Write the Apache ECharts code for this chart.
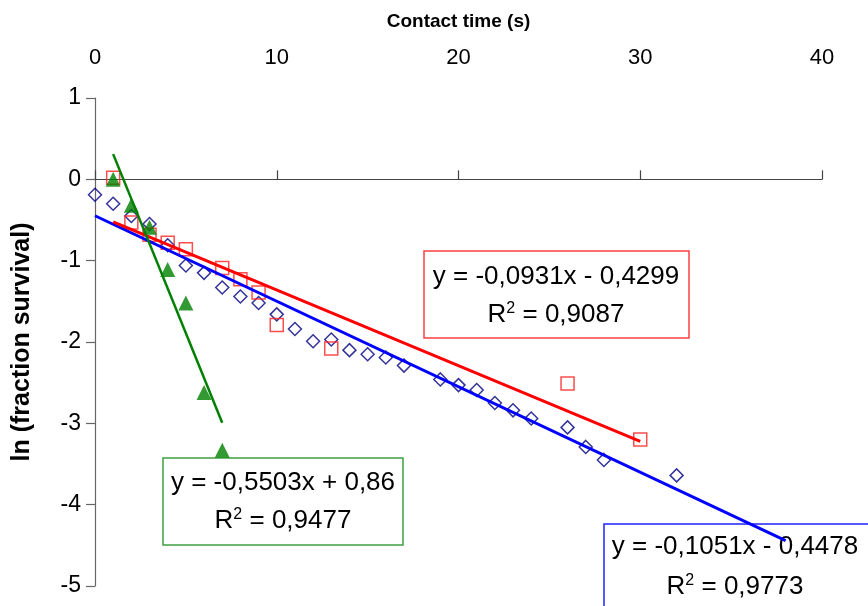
<!DOCTYPE html>
<html>
<head>
<meta charset="utf-8">
<script src="https://cdn.jsdelivr.net/npm/echarts@6/dist/echarts.min.js"></script>
<style>
    html, body { margin: 0; padding: 0; background: #fff; }
    #chart { width: 868px; height: 606px; }
</style>
</head>
<body>
<div id="chart"></div>
<script>
// series A (open diamonds)
var blueX = [0, 1, 2, 3, 4, 5, 6, 7, 8, 9, 10, 11, 12, 13, 14, 15, 16, 17, 19, 20, 21, 22, 23, 24, 26, 27, 28, 32];
var blueY = [-0.19, -0.30, -0.45, -0.55, -0.81, -1.06, -1.15, -1.33, -1.44, -1.52, -1.66, -1.84, -1.99, -1.97, -2.10, -2.15, -2.19, -2.29, -2.46, -2.53, -2.59, -2.75, -2.84, -2.94, -3.05, -3.29, -3.45, -3.64];
// series B (open squares)
var redX = [1, 2, 3, 4, 5, 7, 8, 9, 10, 13, 26, 30];
var redY = [0.02, -0.53, -0.68, -0.78, -0.86, -1.09, -1.23, -1.39, -1.79, -2.08, -2.51, -3.20];
// series C (filled triangles)
var greenX = [1, 2, 3, 4, 5, 6, 7];
var greenY = [0.0, -0.32, -0.59, -1.11, -1.52, -2.62, -3.33];

// trendlines: [slope, intercept], drawn over [from, to]
var blueFit = [-0.1051, -0.4478];
var redFit = [-0.0931, -0.4299];
var greenFit = [-0.5503, 0.86];
var blueSpan = [0, 38];
var redSpan = [1, 30];
var greenSpan = [1, 7];

var blueLabel = ['y = -0,1051x - 0,4478', ' = 0,9773'];
var redLabel = ['y = -0,0931x - 0,4299', ' = 0,9087'];
var greenLabel = ['y = -0,5503x + 0,86', ' = 0,9477'];

var xTicks = [0, 10, 20, 30, 40];
var yTicks = [-5, -4, -3, -2, -1, 0, 1];

function pairs(xs, ys) {
    return xs.map(function (x, i) { return [x, ys[i]]; });
}
function fitLine(fit, span) {
    return span.map(function (x) { return [x, fit[0] * x + fit[1]]; });
}

var boxFont = '26px Arial, "Liberation Sans"';

function labelBox(x, y, w, h, color, lines, cx, y1, y2) {
    return [
        {
            type: 'rect', shape: { x: x, y: y, width: w, height: h },
            style: { fill: 'none', stroke: color, lineWidth: 1.5 }, z: 1
        },
        {
            type: 'text', x: cx, y: y1,
            style: { text: lines[0], font: boxFont, fill: '#000', textAlign: 'center', textVerticalAlign: 'middle' }, z: 1
        },
        {
            type: 'text', x: cx, y: y2,
            style: {
                text: '{n|R}{s|2}{n|' + lines[1] + '}',
                textAlign: 'center', textVerticalAlign: 'middle',
                rich: {
                    n: { font: boxFont, fill: '#000', lineHeight: 30 },
                    s: { font: '16px Arial, "Liberation Sans"', fill: '#000', lineHeight: 30, padding: [0, 0, 12, 0] }
                }
            }, z: 1
        }
    ];
}

var chart = echarts.init(document.getElementById('chart'));
var option = {
    animation: false,
    backgroundColor: '#fff',
    grid: { left: 95, right: 46, top: 98, bottom: 20, containLabel: false },
    xAxis: [
        {
            type: 'value', position: 'top', min: xTicks[0], max: xTicks[xTicks.length - 1], interval: 10,
            axisLine: { show: false, onZero: false },
            axisTick: { show: false },
            splitLine: { show: false },
            axisLabel: { margin: 29, fontSize: 22, color: '#000', fontFamily: '"Liberation Sans Narrow", "Arial Narrow", Arial' },
            name: 'Contact time (s)', nameLocation: 'middle', nameGap: 67,
            nameTextStyle: { fontSize: 19, fontWeight: 'bold', color: '#000', fontFamily: '"Liberation Sans Narrow", "Arial Narrow", Arial' }
        },
        {
            type: 'value', position: 'top', min: xTicks[0], max: xTicks[xTicks.length - 1], interval: 10,
            axisLine: { show: true, onZero: true, lineStyle: { color: '#444', width: 1.2 } },
            axisTick: { show: true, length: 9, lineStyle: { color: '#444', width: 1.2 } },
            axisLabel: { show: false },
            splitLine: { show: false }
        }
    ],
    yAxis: {
        type: 'value', min: yTicks[0], max: yTicks[yTicks.length - 1], interval: 1,
        axisLine: { show: true, onZero: false, lineStyle: { color: '#666', width: 1.2 } },
        axisTick: { show: true, length: 9, lineStyle: { color: '#666', width: 1.2 } },
        splitLine: { show: false },
        axisLabel: { margin: 14, fontSize: 23, color: '#000', fontFamily: 'Arial, "Liberation Sans"' },
        name: 'ln (fraction survival)', nameLocation: 'middle', nameGap: 60, nameRotate: 90,
        nameTextStyle: { fontSize: 25, fontWeight: 'bold', color: '#000', fontFamily: 'Arial, "Liberation Sans"' }
    },
    series: [
        {
            type: 'scatter', data: pairs(blueX, blueY), symbol: 'diamond', symbolSize: 13,
            itemStyle: { color: 'rgba(0,0,0,0)', borderColor: '#000080', borderWidth: 1.5 }, z: 2
        },
        {
            type: 'scatter', data: pairs(redX, redY), symbol: 'rect', symbolSize: 13,
            itemStyle: { color: 'rgba(0,0,0,0)', borderColor: '#ff2020', borderWidth: 1.5 }, z: 3
        },
        {
            type: 'scatter', data: pairs(greenX, greenY), symbol: 'triangle', symbolSize: 15,
            itemStyle: { color: '#008000' }, z: 4
        },
        {
            type: 'line', data: fitLine(blueFit, blueSpan), showSymbol: false, symbol: 'none',
            lineStyle: { color: '#0000ff', width: 3 }, z: 5
        },
        {
            type: 'line', data: fitLine(redFit, redSpan), showSymbol: false, symbol: 'none',
            lineStyle: { color: '#ff0000', width: 3 }, z: 5
        },
        {
            type: 'line', data: fitLine(greenFit, greenSpan), showSymbol: false, symbol: 'none',
            lineStyle: { color: '#008000', width: 2.5 }, z: 5
        }
    ],
    graphic: [].concat(
        labelBox(424, 251, 265, 87, '#ff4040', redLabel, 556, 277, 315),
        labelBox(163, 458, 240, 87, '#40a040', greenLabel, 283, 483, 521),
        labelBox(604, 524, 300, 120, '#2020ff', blueLabel, 735, 547, 587)
    )
};
chart.setOption(option);
</script>
</body>
</html>
